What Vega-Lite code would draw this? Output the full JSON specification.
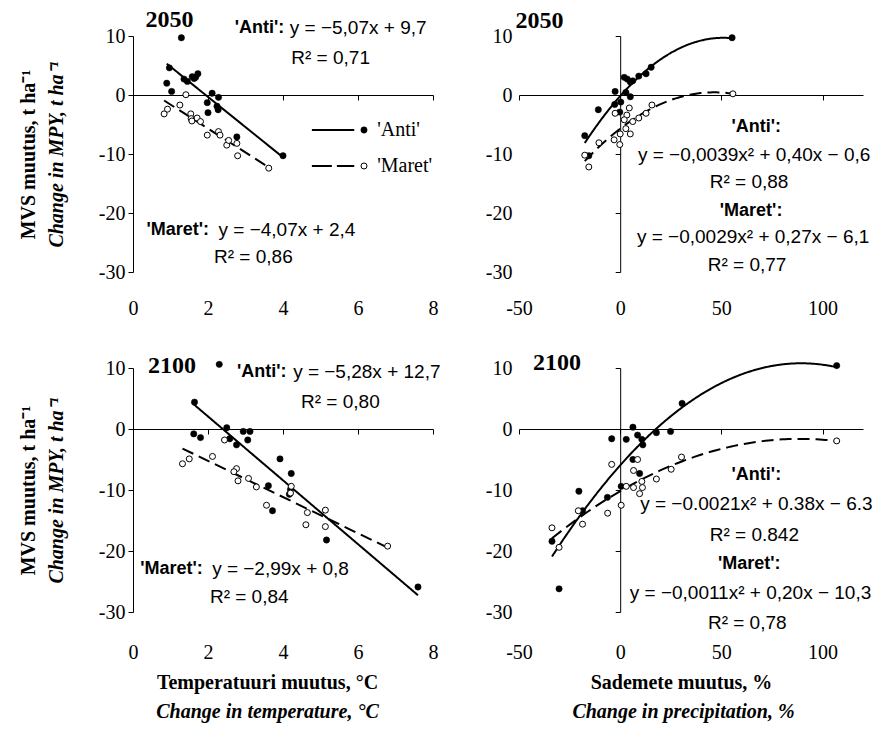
{
"$schema": "https://vega.github.io/schema/vega-lite/v6.json",
"background": "white",
"padding": {"left": 18, "top": 8, "right": 0, "bottom": 5},
"datasets": {"pts": [
{"p":"t50","s":"Anti","x":1.29,"y":9.7},{"p":"t50","s":"Anti","x":0.97,"y":4.6},{"p":"t50","s":"Anti","x":0.90,"y":2.0},{"p":"t50","s":"Anti","x":1.03,"y":0.6},{"p":"t50","s":"Anti","x":1.36,"y":2.7},{"p":"t50","s":"Anti","x":1.45,"y":2.3},{"p":"t50","s":"Anti","x":1.58,"y":3.1},{"p":"t50","s":"Anti","x":1.67,"y":3.0},{"p":"t50","s":"Anti","x":1.73,"y":3.6},{"p":"t50","s":"Anti","x":1.63,"y":2.8},{"p":"t50","s":"Anti","x":2.11,"y":0.3},{"p":"t50","s":"Anti","x":1.98,"y":-1.3},{"p":"t50","s":"Anti","x":2.0,"y":-3.0},{"p":"t50","s":"Anti","x":2.28,"y":-0.4},{"p":"t50","s":"Anti","x":2.24,"y":-1.9},{"p":"t50","s":"Anti","x":2.27,"y":-2.5},{"p":"t50","s":"Anti","x":2.77,"y":-7.1},{"p":"t50","s":"Anti","x":4.0,"y":-10.3},
{"p":"t50","s":"Maret","x":0.83,"y":-3.2},{"p":"t50","s":"Maret","x":0.92,"y":-2.4},{"p":"t50","s":"Maret","x":1.25,"y":-1.7},{"p":"t50","s":"Maret","x":1.41,"y":0.05},{"p":"t50","s":"Maret","x":1.54,"y":-3.2},{"p":"t50","s":"Maret","x":1.55,"y":-4.0},{"p":"t50","s":"Maret","x":1.57,"y":-4.4},{"p":"t50","s":"Maret","x":1.71,"y":-3.9},{"p":"t50","s":"Maret","x":1.80,"y":-4.5},{"p":"t50","s":"Maret","x":1.98,"y":-6.8},{"p":"t50","s":"Maret","x":2.28,"y":-6.2},{"p":"t50","s":"Maret","x":2.32,"y":-6.8},{"p":"t50","s":"Maret","x":2.50,"y":-8.5},{"p":"t50","s":"Maret","x":2.55,"y":-7.7},{"p":"t50","s":"Maret","x":2.77,"y":-8.2},{"p":"t50","s":"Maret","x":2.79,"y":-10.3},{"p":"t50","s":"Maret","x":3.62,"y":-12.4},
{"p":"p50","s":"Anti","x":55.3,"y":9.7},{"p":"p50","s":"Anti","x":15.3,"y":4.7},{"p":"p50","s":"Anti","x":12.8,"y":3.6},{"p":"p50","s":"Anti","x":9.2,"y":3.2},{"p":"p50","s":"Anti","x":6.2,"y":2.4},{"p":"p50","s":"Anti","x":5.0,"y":2.2},{"p":"p50","s":"Anti","x":2.0,"y":3.0},{"p":"p50","s":"Anti","x":3.5,"y":2.7},{"p":"p50","s":"Anti","x":2.8,"y":0.45},{"p":"p50","s":"Anti","x":5.0,"y":-0.3},{"p":"p50","s":"Anti","x":-2.5,"y":0.6},{"p":"p50","s":"Anti","x":0.3,"y":-1.2},{"p":"p50","s":"Anti","x":-2.7,"y":-1.6},{"p":"p50","s":"Anti","x":-0.2,"y":-2.9},{"p":"p50","s":"Anti","x":-10.8,"y":-2.5},{"p":"p50","s":"Anti","x":-17.5,"y":-6.9},{"p":"p50","s":"Anti","x":-15.5,"y":-10.3},
{"p":"p50","s":"Maret","x":55.7,"y":0.2},{"p":"p50","s":"Maret","x":15.7,"y":-1.7},{"p":"p50","s":"Maret","x":12.8,"y":-3.1},{"p":"p50","s":"Maret","x":9.2,"y":-3.9},{"p":"p50","s":"Maret","x":6.2,"y":-4.5},{"p":"p50","s":"Maret","x":4.5,"y":-2.2},{"p":"p50","s":"Maret","x":3.3,"y":-3.4},{"p":"p50","s":"Maret","x":2.0,"y":-4.2},{"p":"p50","s":"Maret","x":2.8,"y":-5.7},{"p":"p50","s":"Maret","x":5.0,"y":-6.6},{"p":"p50","s":"Maret","x":0.0,"y":-6.6},{"p":"p50","s":"Maret","x":-3.0,"y":-7.6},{"p":"p50","s":"Maret","x":-0.2,"y":-8.4},{"p":"p50","s":"Maret","x":-2.5,"y":-3.1},{"p":"p50","s":"Maret","x":-10.5,"y":-8.1},{"p":"p50","s":"Maret","x":-17.5,"y":-10.2},{"p":"p50","s":"Maret","x":-15.5,"y":-12.2},
{"p":"t100","s":"Anti","x":2.3,"y":10.6},{"p":"t100","s":"Anti","x":1.64,"y":4.4},{"p":"t100","s":"Anti","x":1.62,"y":-0.8},{"p":"t100","s":"Anti","x":1.80,"y":-1.4},{"p":"t100","s":"Anti","x":2.50,"y":0.2},{"p":"t100","s":"Anti","x":2.58,"y":-1.6},{"p":"t100","s":"Anti","x":2.76,"y":-2.6},{"p":"t100","s":"Anti","x":2.94,"y":-0.4},{"p":"t100","s":"Anti","x":3.12,"y":-0.4},{"p":"t100","s":"Anti","x":3.06,"y":-1.8},{"p":"t100","s":"Anti","x":3.92,"y":-4.9},{"p":"t100","s":"Anti","x":4.22,"y":-7.3},{"p":"t100","s":"Anti","x":3.61,"y":-9.3},{"p":"t100","s":"Anti","x":4.2,"y":-9.9},{"p":"t100","s":"Anti","x":4.17,"y":-10.7},{"p":"t100","s":"Anti","x":3.72,"y":-13.4},{"p":"t100","s":"Anti","x":5.16,"y":-18.2},{"p":"t100","s":"Anti","x":7.6,"y":-25.9},
{"p":"t100","s":"Maret","x":1.32,"y":-5.7},{"p":"t100","s":"Maret","x":1.50,"y":-4.9},{"p":"t100","s":"Maret","x":2.12,"y":-4.5},{"p":"t100","s":"Maret","x":2.44,"y":-1.8},{"p":"t100","s":"Maret","x":2.76,"y":-6.5},{"p":"t100","s":"Maret","x":2.69,"y":-7.0},{"p":"t100","s":"Maret","x":2.8,"y":-8.5},{"p":"t100","s":"Maret","x":3.08,"y":-8.1},{"p":"t100","s":"Maret","x":3.29,"y":-9.5},{"p":"t100","s":"Maret","x":3.56,"y":-12.5},{"p":"t100","s":"Maret","x":4.22,"y":-9.4},{"p":"t100","s":"Maret","x":4.2,"y":-10.5},{"p":"t100","s":"Maret","x":4.65,"y":-13.7},{"p":"t100","s":"Maret","x":4.61,"y":-15.7},{"p":"t100","s":"Maret","x":5.13,"y":-13.3},{"p":"t100","s":"Maret","x":5.13,"y":-16.0},{"p":"t100","s":"Maret","x":6.79,"y":-19.2},
{"p":"p100","s":"Anti","x":107,"y":10.4},{"p":"p100","s":"Anti","x":30.6,"y":4.2},{"p":"p100","s":"Anti","x":24.9,"y":-0.4},{"p":"p100","s":"Anti","x":17.9,"y":-0.6},{"p":"p100","s":"Anti","x":6.3,"y":0.3},{"p":"p100","s":"Anti","x":8.6,"y":-1.0},{"p":"p100","s":"Anti","x":10.7,"y":-1.7},{"p":"p100","s":"Anti","x":11.2,"y":-2.6},{"p":"p100","s":"Anti","x":3.0,"y":-1.7},{"p":"p100","s":"Anti","x":-4.2,"y":-1.6},{"p":"p100","s":"Anti","x":6.3,"y":-5.0},{"p":"p100","s":"Anti","x":9.6,"y":-7.3},{"p":"p100","s":"Anti","x":0.5,"y":-9.4},{"p":"p100","s":"Anti","x":-6.3,"y":-11.2},{"p":"p100","s":"Anti","x":-20.4,"y":-10.2},{"p":"p100","s":"Anti","x":-18.6,"y":-13.4},{"p":"p100","s":"Anti","x":-33.7,"y":-18.4},{"p":"p100","s":"Anti","x":-30.2,"y":-26.2},
{"p":"p100","s":"Maret","x":107,"y":-1.95},{"p":"p100","s":"Maret","x":30.3,"y":-4.6},{"p":"p100","s":"Maret","x":25.2,"y":-6.6},{"p":"p100","s":"Maret","x":17.9,"y":-8.2},{"p":"p100","s":"Maret","x":8.6,"y":-5.0},{"p":"p100","s":"Maret","x":6.6,"y":-6.8},{"p":"p100","s":"Maret","x":10.7,"y":-8.6},{"p":"p100","s":"Maret","x":11.0,"y":-9.6},{"p":"p100","s":"Maret","x":9.6,"y":-10.6},{"p":"p100","s":"Maret","x":6.6,"y":-9.6},{"p":"p100","s":"Maret","x":3.0,"y":-9.4},{"p":"p100","s":"Maret","x":-4.2,"y":-5.8},{"p":"p100","s":"Maret","x":0.5,"y":-12.5},{"p":"p100","s":"Maret","x":-6.2,"y":-13.8},{"p":"p100","s":"Maret","x":-20.7,"y":-13.4},{"p":"p100","s":"Maret","x":-18.6,"y":-15.6},{"p":"p100","s":"Maret","x":-33.7,"y":-16.2},{"p":"p100","s":"Maret","x":-30.2,"y":-19.4}
]},
"columns": 2,
"bounds": "flush",
"spacing": {"row": 96, "column": 86},
"concat": [
{
 "width": 300, "height": 236,
 "resolve": {"axis": {"x": "independent", "y": "independent"}},
 "layer": [
  {"data": {"name": "pts"},
   "transform": [{"filter": "datum.p == 't50'"}, {"regression": "y", "on": "x", "groupby": ["s"]}],
   "mark": {"type": "line", "color": "black", "strokeWidth": 2},
   "encoding": {
    "x": {"field": "x", "type": "quantitative", "scale": {"domain": [0, 8], "nice": false, "zero": false},
          "axis": {"orient": "bottom", "offset": -177, "values": [0, 2, 4, 6, 8], "labels": false, "title": null}},
    "y": {"field": "y", "type": "quantitative", "scale": {"domain": [-30, 10], "nice": false, "zero": false},
          "axis": {"orient": "left", "values": [-30, -20, -10, 0, 10], "labelExpr": "'' + datum.value", "labelPadding": 3, "title": "MVS muutus, t ha⁻¹", "titlePadding": 60}},
    "strokeDash": {"field": "s", "type": "nominal", "scale": {"domain": ["Anti", "Maret"], "range": [[1, 0], [12, 6]]}, "legend": null}
   }},
  {"data": {"name": "pts"},
   "transform": [{"filter": "datum.p == 't50' && datum.s == 'Anti'"}],
   "mark": {"type": "point", "shape": "circle", "filled": true, "fill": "black", "stroke": "black", "strokeWidth": 0.5, "size": 40, "opacity": 1},
   "encoding": {
    "x": {"field": "x", "type": "quantitative", "axis": {"orient": "bottom", "values": [0, 2, 4, 6, 8], "labelFlush": false, "domain": false, "ticks": false, "labelPadding": 26, "title": null}},
    "y": {"field": "y", "type": "quantitative", "axis": {"orient": "left", "labels": false, "ticks": false, "domain": false, "title": "Change in MPY, t ha⁻¹", "titleFontStyle": "italic", "titlePadding": 67}}
   }},
  {"data": {"name": "pts"},
   "transform": [{"filter": "datum.p == 't50' && datum.s == 'Maret'"}],
   "mark": {"type": "point", "shape": "circle", "filled": true, "fill": "white", "stroke": "black", "strokeWidth": 1, "size": 36, "opacity": 1},
   "encoding": {
    "x": {"field": "x", "type": "quantitative", "axis": null},
    "y": {"field": "y", "type": "quantitative", "axis": null}
   }},
  {"data": {"values": [{}]}, "mark": {"type": "rule", "color": "black", "strokeWidth": 2},
   "encoding": {"x": {"datum": 4.77, "type": "quantitative", "axis": null}, "x2": {"datum": 5.90}, "y": {"datum": -5.93, "type": "quantitative", "axis": null}}},
  {"data": {"values": [{}]}, "mark": {"type": "point", "shape": "circle", "filled": true, "fill": "black", "stroke": "black", "strokeWidth": 0.5, "size": 40, "opacity": 1},
   "encoding": {"x": {"datum": 6.16, "type": "quantitative", "axis": null}, "y": {"datum": -5.93, "type": "quantitative", "axis": null}}},
  {"data": {"values": [{}]}, "mark": {"type": "text", "align": "left", "baseline": "middle", "font": "Liberation Serif", "fontSize": 20},
   "encoding": {"x": {"datum": 6.51, "type": "quantitative", "axis": null}, "y": {"datum": -5.93, "type": "quantitative", "axis": null}, "text": {"value": "'Anti'"}}},
  {"data": {"values": [{}]}, "mark": {"type": "rule", "color": "black", "strokeWidth": 2, "strokeDash": [20, 5]},
   "encoding": {"x": {"datum": 4.77, "type": "quantitative", "axis": null}, "x2": {"datum": 5.90}, "y": {"datum": -12.03, "type": "quantitative", "axis": null}}},
  {"data": {"values": [{}]}, "mark": {"type": "point", "shape": "circle", "filled": true, "fill": "white", "stroke": "black", "strokeWidth": 1, "size": 36, "opacity": 1},
   "encoding": {"x": {"datum": 6.16, "type": "quantitative", "axis": null}, "y": {"datum": -12.03, "type": "quantitative", "axis": null}}},
  {"data": {"values": [{}]}, "mark": {"type": "text", "align": "left", "baseline": "middle", "font": "Liberation Serif", "fontSize": 20},
   "encoding": {"x": {"datum": 6.51, "type": "quantitative", "axis": null}, "y": {"datum": -12.03, "type": "quantitative", "axis": null}, "text": {"value": "'Maret'"}}},
  {"data": {"values": [{}]}, "mark": {"type": "text", "align": "center", "baseline": "middle", "font": "Liberation Serif", "fontSize": 24, "fontWeight": "bold"},
   "encoding": {"x": {"datum": 0.97, "type": "quantitative", "axis": null}, "y": {"datum": 12.7, "type": "quantitative", "axis": null}, "text": {"value": "2050"}}},
  {"data": {"values": [{}]}, "mark": {"type": "text", "align": "left", "baseline": "middle", "fontWeight": "bold", "fontSize": 18},
   "encoding": {"x": {"datum": 2.71, "type": "quantitative", "axis": null}, "y": {"datum": 11.4, "type": "quantitative", "axis": null}, "text": {"value": "'Anti':"}}},
  {"data": {"values": [{}]}, "mark": {"type": "text", "align": "left", "baseline": "middle"},
   "encoding": {"x": {"datum": 4.18, "type": "quantitative", "axis": null}, "y": {"datum": 11.4, "type": "quantitative", "axis": null}, "text": {"value": "y = −5,07x + 9,7"}}},
  {"data": {"values": [{}]}, "mark": {"type": "text", "align": "center", "baseline": "middle"},
   "encoding": {"x": {"datum": 5.27, "type": "quantitative", "axis": null}, "y": {"datum": 6.3, "type": "quantitative", "axis": null}, "text": {"value": "R² = 0,71"}}},
  {"data": {"values": [{}]}, "mark": {"type": "text", "align": "left", "baseline": "middle", "fontWeight": "bold", "fontSize": 18},
   "encoding": {"x": {"datum": 0.36, "type": "quantitative", "axis": null}, "y": {"datum": -22.9, "type": "quantitative", "axis": null}, "text": {"value": "'Maret':"}}},
  {"data": {"values": [{}]}, "mark": {"type": "text", "align": "left", "baseline": "middle"},
   "encoding": {"x": {"datum": 2.28, "type": "quantitative", "axis": null}, "y": {"datum": -22.9, "type": "quantitative", "axis": null}, "text": {"value": "y = −4,07x + 2,4"}}},
  {"data": {"values": [{}]}, "mark": {"type": "text", "align": "center", "baseline": "middle"},
   "encoding": {"x": {"datum": 3.21, "type": "quantitative", "axis": null}, "y": {"datum": -27.5, "type": "quantitative", "axis": null}, "text": {"value": "R² = 0,86"}}}
 ]
},
{
 "width": 344, "height": 236,
 "resolve": {"axis": {"x": "independent", "y": "independent"}},
 "layer": [
  {"data": {"name": "pts"},
   "transform": [{"filter": "datum.p == 'p50'"}, {"regression": "y", "on": "x", "groupby": ["s"], "method": "poly", "order": 2}],
   "mark": {"type": "line", "color": "black", "strokeWidth": 2},
   "encoding": {
    "x": {"field": "x", "type": "quantitative", "scale": {"domain": [-50, 120], "nice": false, "zero": false},
          "axis": {"orient": "bottom", "offset": -177, "values": [-50, 0, 50, 100], "labels": false, "title": null}},
    "y": {"field": "y", "type": "quantitative", "scale": {"domain": [-30, 10], "nice": false, "zero": false},
          "axis": {"orient": "left", "offset": -101.18, "values": [-30, -20, -10, 0, 10], "labels": false, "title": null}},
    "strokeDash": {"field": "s", "type": "nominal", "scale": {"domain": ["Anti", "Maret"], "range": [[1, 0], [12, 6]]}, "legend": null}
   }},
  {"data": {"name": "pts"},
   "transform": [{"filter": "datum.p == 'p50' && datum.s == 'Anti'"}],
   "mark": {"type": "point", "shape": "circle", "filled": true, "fill": "black", "stroke": "black", "strokeWidth": 0.5, "size": 40, "opacity": 1},
   "encoding": {
    "x": {"field": "x", "type": "quantitative", "axis": {"orient": "bottom", "values": [-50, 0, 50, 100], "labelExpr": "'' + datum.value", "labelFlush": false, "domain": false, "ticks": false, "labelPadding": 26, "title": null}},
    "y": {"field": "y", "type": "quantitative", "axis": {"orient": "left", "values": [-30, -20, -10, 0, 10], "labelExpr": "'' + datum.value", "domain": false, "ticks": false, "labelPadding": 7, "title": null}}
   }},
  {"data": {"name": "pts"},
   "transform": [{"filter": "datum.p == 'p50' && datum.s == 'Maret'"}],
   "mark": {"type": "point", "shape": "circle", "filled": true, "fill": "white", "stroke": "black", "strokeWidth": 1, "size": 36, "opacity": 1},
   "encoding": {
    "x": {"field": "x", "type": "quantitative", "axis": null},
    "y": {"field": "y", "type": "quantitative", "axis": null}
   }},
  {"data": {"values": [{}]}, "mark": {"type": "text", "align": "center", "baseline": "middle", "font": "Liberation Serif", "fontSize": 24, "fontWeight": "bold"},
   "encoding": {"x": {"datum": -39.9, "type": "quantitative", "axis": null}, "y": {"datum": 12.5, "type": "quantitative", "axis": null}, "text": {"value": "2050"}}},
  {"data": {"values": [{}]}, "mark": {"type": "text", "align": "center", "baseline": "middle", "fontWeight": "bold", "fontSize": 18},
   "encoding": {"x": {"datum": 67.2, "type": "quantitative", "axis": null}, "y": {"datum": -5.5, "type": "quantitative", "axis": null}, "text": {"value": "'Anti':"}}},
  {"data": {"values": [{}]}, "mark": {"type": "text", "align": "center", "baseline": "middle"},
   "encoding": {"x": {"datum": 66.2, "type": "quantitative", "axis": null}, "y": {"datum": -10.2, "type": "quantitative", "axis": null}, "text": {"value": "y = −0,0039x² + 0,40x − 0,6"}}},
  {"data": {"values": [{}]}, "mark": {"type": "text", "align": "center", "baseline": "middle"},
   "encoding": {"x": {"datum": 63.7, "type": "quantitative", "axis": null}, "y": {"datum": -14.8, "type": "quantitative", "axis": null}, "text": {"value": "R² = 0,88"}}},
  {"data": {"values": [{}]}, "mark": {"type": "text", "align": "center", "baseline": "middle", "fontWeight": "bold", "fontSize": 18},
   "encoding": {"x": {"datum": 64.7, "type": "quantitative", "axis": null}, "y": {"datum": -19.7, "type": "quantitative", "axis": null}, "text": {"value": "'Maret':"}}},
  {"data": {"values": [{}]}, "mark": {"type": "text", "align": "center", "baseline": "middle"},
   "encoding": {"x": {"datum": 65.7, "type": "quantitative", "axis": null}, "y": {"datum": -24.1, "type": "quantitative", "axis": null}, "text": {"value": "y = −0,0029x² + 0,27x − 6,1"}}},
  {"data": {"values": [{}]}, "mark": {"type": "text", "align": "center", "baseline": "middle"},
   "encoding": {"x": {"datum": 62.7, "type": "quantitative", "axis": null}, "y": {"datum": -28.8, "type": "quantitative", "axis": null}, "text": {"value": "R² = 0,77"}}}
 ]
},
{
 "width": 300, "height": 244,
 "resolve": {"axis": {"x": "independent", "y": "independent"}},
 "layer": [
  {"data": {"name": "pts"},
   "transform": [{"filter": "datum.p == 't100'"}, {"regression": "y", "on": "x", "groupby": ["s"]}],
   "mark": {"type": "line", "color": "black", "strokeWidth": 2},
   "encoding": {
    "x": {"field": "x", "type": "quantitative", "scale": {"domain": [0, 8], "nice": false, "zero": false},
          "axis": {"orient": "bottom", "offset": -183, "values": [0, 2, 4, 6, 8], "labels": false, "title": null}},
    "y": {"field": "y", "type": "quantitative", "scale": {"domain": [-30, 10], "nice": false, "zero": false},
          "axis": {"orient": "left", "values": [-30, -20, -10, 0, 10], "labelExpr": "'' + datum.value", "labelPadding": 3, "title": "MVS muutus, t ha⁻¹", "titlePadding": 60}},
    "strokeDash": {"field": "s", "type": "nominal", "scale": {"domain": ["Anti", "Maret"], "range": [[1, 0], [12, 6]]}, "legend": null}
   }},
  {"data": {"name": "pts"},
   "transform": [{"filter": "datum.p == 't100' && datum.s == 'Anti'"}],
   "mark": {"type": "point", "shape": "circle", "filled": true, "fill": "black", "stroke": "black", "strokeWidth": 0.5, "size": 40, "opacity": 1},
   "encoding": {
    "x": {"field": "x", "type": "quantitative", "axis": {"orient": "bottom", "values": [0, 2, 4, 6, 8], "labelFlush": false, "domain": false, "ticks": false, "labelPadding": 30, "title": "Temperatuuri muutus, °C", "titlePadding": 10, "titleX": 134}},
    "y": {"field": "y", "type": "quantitative", "axis": {"orient": "left", "labels": false, "ticks": false, "domain": false, "title": "Change in MPY, t ha⁻¹", "titleFontStyle": "italic", "titlePadding": 67}}
   }},
  {"data": {"name": "pts"},
   "transform": [{"filter": "datum.p == 't100' && datum.s == 'Maret'"}],
   "mark": {"type": "point", "shape": "circle", "filled": true, "fill": "white", "stroke": "black", "strokeWidth": 1, "size": 36, "opacity": 1},
   "encoding": {
    "x": {"field": "x", "type": "quantitative", "axis": null},
    "y": {"field": "y", "type": "quantitative", "axis": null}
   }},
  {"data": {"values": [{}]}, "mark": {"type": "text", "align": "center", "baseline": "middle", "font": "Liberation Serif", "fontSize": 24, "fontWeight": "bold"},
   "encoding": {"x": {"datum": 1.04, "type": "quantitative", "axis": {"orient": "bottom", "labels": false, "ticks": false, "domain": false, "title": "Change in temperature, °C", "titleFontStyle": "italic", "titlePadding": 89, "titleX": 134}}, "y": {"datum": 10.4, "type": "quantitative", "axis": null}, "text": {"value": "2100"}}},
  {"data": {"values": [{}]}, "mark": {"type": "text", "align": "left", "baseline": "middle", "fontWeight": "bold", "fontSize": 18},
   "encoding": {"x": {"datum": 2.77, "type": "quantitative", "axis": null}, "y": {"datum": 9.3, "type": "quantitative", "axis": null}, "text": {"value": "'Anti':"}}},
  {"data": {"values": [{}]}, "mark": {"type": "text", "align": "left", "baseline": "middle"},
   "encoding": {"x": {"datum": 4.27, "type": "quantitative", "axis": null}, "y": {"datum": 9.3, "type": "quantitative", "axis": null}, "text": {"value": "y = −5,28x + 12,7"}}},
  {"data": {"values": [{}]}, "mark": {"type": "text", "align": "center", "baseline": "middle"},
   "encoding": {"x": {"datum": 5.53, "type": "quantitative", "axis": null}, "y": {"datum": 4.5, "type": "quantitative", "axis": null}, "text": {"value": "R² = 0,80"}}},
  {"data": {"values": [{}]}, "mark": {"type": "text", "align": "left", "baseline": "middle", "fontWeight": "bold", "fontSize": 18},
   "encoding": {"x": {"datum": 0.19, "type": "quantitative", "axis": null}, "y": {"datum": -22.9, "type": "quantitative", "axis": null}, "text": {"value": "'Maret':"}}},
  {"data": {"values": [{}]}, "mark": {"type": "text", "align": "left", "baseline": "middle"},
   "encoding": {"x": {"datum": 2.11, "type": "quantitative", "axis": null}, "y": {"datum": -22.9, "type": "quantitative", "axis": null}, "text": {"value": "y = −2,99x + 0,8"}}},
  {"data": {"values": [{}]}, "mark": {"type": "text", "align": "center", "baseline": "middle"},
   "encoding": {"x": {"datum": 3.10, "type": "quantitative", "axis": null}, "y": {"datum": -27.6, "type": "quantitative", "axis": null}, "text": {"value": "R² = 0,84"}}}
 ]
},
{
 "width": 344, "height": 244,
 "resolve": {"axis": {"x": "independent", "y": "independent"}},
 "layer": [
  {"data": {"name": "pts"},
   "transform": [{"filter": "datum.p == 'p100'"}, {"regression": "y", "on": "x", "groupby": ["s"], "method": "poly", "order": 2}],
   "mark": {"type": "line", "color": "black", "strokeWidth": 2},
   "encoding": {
    "x": {"field": "x", "type": "quantitative", "scale": {"domain": [-50, 120], "nice": false, "zero": false},
          "axis": {"orient": "bottom", "offset": -183, "values": [-50, 0, 50, 100], "labels": false, "title": null}},
    "y": {"field": "y", "type": "quantitative", "scale": {"domain": [-30, 10], "nice": false, "zero": false},
          "axis": {"orient": "left", "offset": -101.18, "values": [-30, -20, -10, 0, 10], "labels": false, "title": null}},
    "strokeDash": {"field": "s", "type": "nominal", "scale": {"domain": ["Anti", "Maret"], "range": [[1, 0], [12, 6]]}, "legend": null}
   }},
  {"data": {"name": "pts"},
   "transform": [{"filter": "datum.p == 'p100' && datum.s == 'Anti'"}],
   "mark": {"type": "point", "shape": "circle", "filled": true, "fill": "black", "stroke": "black", "strokeWidth": 0.5, "size": 40, "opacity": 1},
   "encoding": {
    "x": {"field": "x", "type": "quantitative", "axis": {"orient": "bottom", "values": [-50, 0, 50, 100], "labelExpr": "'' + datum.value", "labelFlush": false, "domain": false, "ticks": false, "labelPadding": 30, "title": "Sademete muutus, %", "titlePadding": 10, "titleX": 162}},
    "y": {"field": "y", "type": "quantitative", "axis": {"orient": "left", "values": [-30, -20, -10, 0, 10], "labelExpr": "'' + datum.value", "domain": false, "ticks": false, "labelPadding": 7, "title": null}}
   }},
  {"data": {"name": "pts"},
   "transform": [{"filter": "datum.p == 'p100' && datum.s == 'Maret'"}],
   "mark": {"type": "point", "shape": "circle", "filled": true, "fill": "white", "stroke": "black", "strokeWidth": 1, "size": 36, "opacity": 1},
   "encoding": {
    "x": {"field": "x", "type": "quantitative", "axis": null},
    "y": {"field": "y", "type": "quantitative", "axis": null}
   }},
  {"data": {"values": [{}]}, "mark": {"type": "text", "align": "center", "baseline": "middle", "font": "Liberation Serif", "fontSize": 24, "fontWeight": "bold"},
   "encoding": {"x": {"datum": -31.2, "type": "quantitative", "axis": {"orient": "bottom", "labels": false, "ticks": false, "domain": false, "title": "Change in precipitation, %", "titleFontStyle": "italic", "titlePadding": 89, "titleX": 164}}, "y": {"datum": 10.9, "type": "quantitative", "axis": null}, "text": {"value": "2100"}}},
  {"data": {"values": [{}]}, "mark": {"type": "text", "align": "center", "baseline": "middle", "fontWeight": "bold", "fontSize": 18},
   "encoding": {"x": {"datum": 67.3, "type": "quantitative", "axis": null}, "y": {"datum": -7.6, "type": "quantitative", "axis": null}, "text": {"value": "'Anti':"}}},
  {"data": {"values": [{}]}, "mark": {"type": "text", "align": "center", "baseline": "middle"},
   "encoding": {"x": {"datum": 67.3, "type": "quantitative", "axis": null}, "y": {"datum": -12.3, "type": "quantitative", "axis": null}, "text": {"value": "y = −0.0021x² + 0.38x − 6.3"}}},
  {"data": {"values": [{}]}, "mark": {"type": "text", "align": "center", "baseline": "middle"},
   "encoding": {"x": {"datum": 66.3, "type": "quantitative", "axis": null}, "y": {"datum": -17.3, "type": "quantitative", "axis": null}, "text": {"value": "R² = 0.842"}}},
  {"data": {"values": [{}]}, "mark": {"type": "text", "align": "center", "baseline": "middle", "fontWeight": "bold", "fontSize": 18},
   "encoding": {"x": {"datum": 63.8, "type": "quantitative", "axis": null}, "y": {"datum": -22.1, "type": "quantitative", "axis": null}, "text": {"value": "'Maret':"}}},
  {"data": {"values": [{}]}, "mark": {"type": "text", "align": "center", "baseline": "middle"},
   "encoding": {"x": {"datum": 64.4, "type": "quantitative", "axis": null}, "y": {"datum": -26.9, "type": "quantitative", "axis": null}, "text": {"value": "y = −0,0011x² + 0,20x − 10,3"}}},
  {"data": {"values": [{}]}, "mark": {"type": "text", "align": "center", "baseline": "middle"},
   "encoding": {"x": {"datum": 62.8, "type": "quantitative", "axis": null}, "y": {"datum": -31.8, "type": "quantitative", "axis": null}, "text": {"value": "R² = 0,78"}}}
 ]
}
],
"config": {
 "view": {"stroke": null},
 "axis": {"grid": false, "labelFont": "Liberation Serif", "labelFontSize": 20, "labelColor": "black", "domainColor": "black", "tickColor": "black", "titleColor": "black", "titleFont": "Liberation Serif", "titleFontSize": 20, "titleFontWeight": "bold", "tickSize": 5, "domainWidth": 1, "tickWidth": 1},
 "text": {"font": "Liberation Sans", "fontSize": 19, "color": "black"}
}
}
